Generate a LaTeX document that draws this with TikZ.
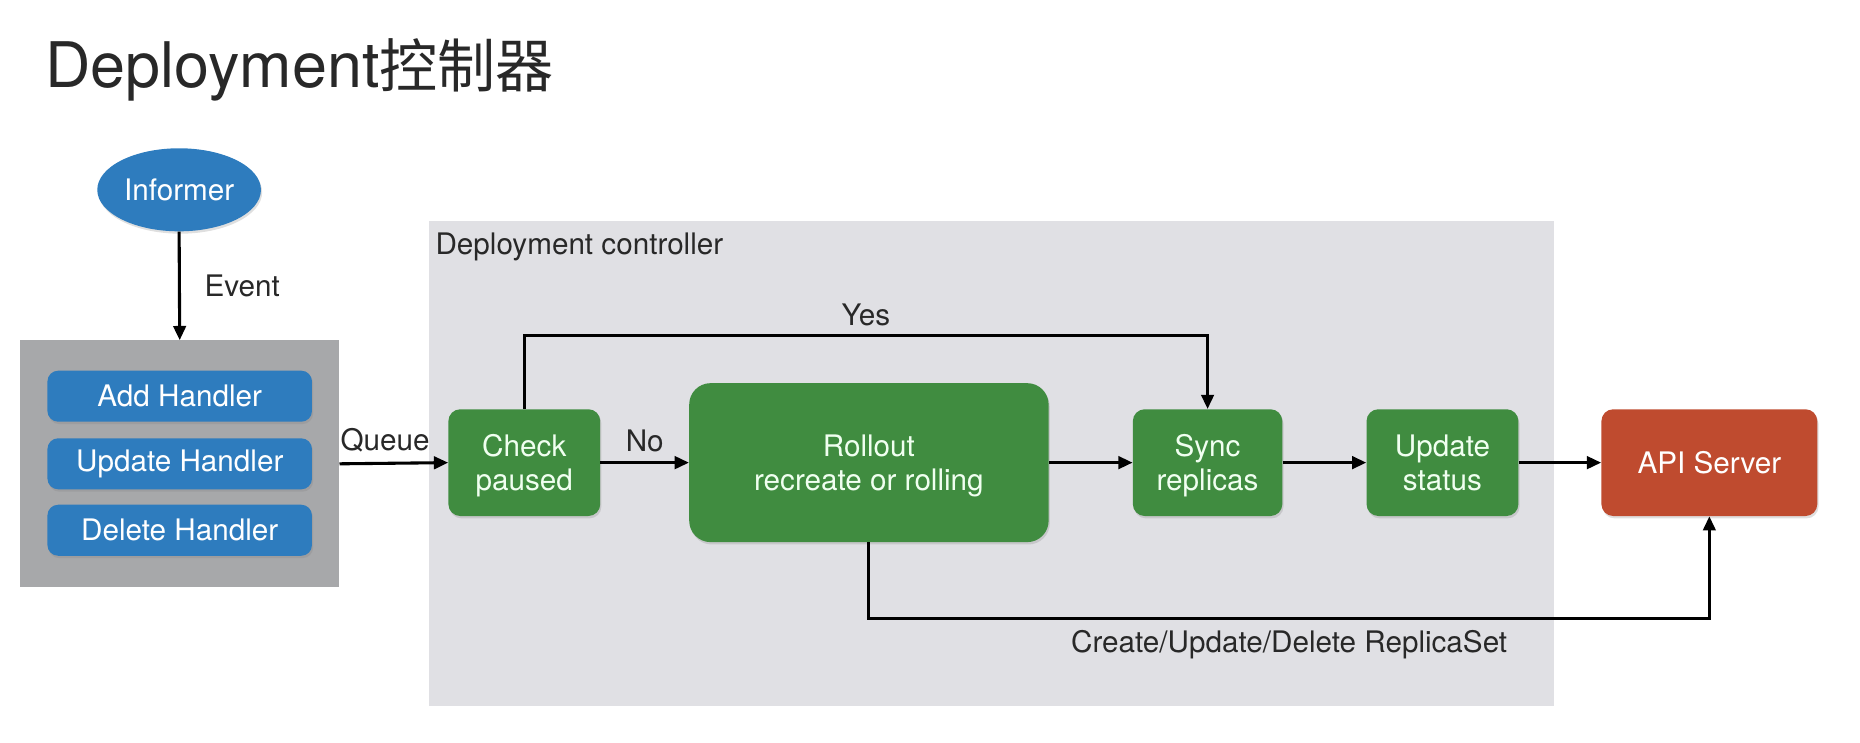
\documentclass[tikz,border=0pt]{standalone}
\usepackage{fontspec}
\setmainfont{TeX Gyre Heros}
\newfontfamily\cjk{Noto Sans CJK SC}
\usetikzlibrary{arrows.meta,shapes.geometric,shadows}
\definecolor{blueA}{RGB}{46,124,190}
\definecolor{greenA}{RGB}{64,140,64}
\definecolor{redA}{RGB}{191,75,47}
\definecolor{greyBox}{RGB}{167,168,170}
\definecolor{ctrlBg}{RGB}{224,224,228}
\definecolor{txt}{RGB}{40,40,40}
\tikzset{
  f24/.style={font=\fontsize{25}{29}\selectfont},
  shad/.style={drop shadow={shadow xshift=1pt,shadow yshift=-2pt,opacity=0.25}},
  gbox/.style={rectangle, rounded corners=10pt, fill=greenA, text=white!94!green, f24, align=center, inner sep=0pt, text depth=0pt, shad},
  hbox/.style={rectangle, rounded corners=9pt, fill=blueA, text=white, f24, inner sep=0pt, minimum width=223pt, minimum height=43pt, shad},
  conn/.style={line width=2.6pt, draw=black, -{Triangle[length=12pt,width=10.5pt]}},
  lbl/.style={text=txt, f24, inner sep=0pt}
}
\begin{document}
\begin{tikzpicture}[x=1pt,y=-1pt]
\useasboundingbox (0,0) rectangle (1568,626);
% title
\node[anchor=base west, inner sep=0pt, text=txt, font=\fontsize{53}{60}\selectfont] (title) at (38,74) {Deployment{\cjk\fontsize{49}{56}\selectfont 控制器}};
% informer
\node[ellipse, fill=blueA, text=white, f24, minimum width=138pt, minimum height=70pt, inner sep=0pt, shad] (inf) at (151,160) {Informer};
% handler group
\node[fill=greyBox, minimum width=269pt, minimum height=208pt, inner sep=0pt] (hgrp) at (151.5,391) {};
\node[hbox] (add) at (151.5,334) {Add Handler};
\node[hbox] (upd) at (151.5,391) {Update Handler};
\node[hbox] (del) at (151.5,447) {Delete Handler};
\draw[conn] (inf.south) -- (hgrp.north) node[midway, right=20pt, lbl] (ev) {Event};
% controller
\node[fill=ctrlBg, minimum width=948pt, minimum height=409pt, inner sep=0pt] (ctrl) at (836,390.5) {};
\node[lbl, anchor=west] (ctrllbl) at (367,208) {Deployment controller};
\node[gbox, minimum width=128pt, minimum height=90pt] (check) at (442,390) {Check\\paused};
\node[gbox, rounded corners=18pt, minimum width=303pt, minimum height=134pt] (roll) at (732.5,390) {Rollout\\recreate or rolling};
\node[gbox, minimum width=126pt, minimum height=90pt] (sync) at (1018,390) {Sync\\replicas};
\node[gbox, minimum width=128pt, minimum height=90pt] (ustat) at (1216,390) {Update\\status};
\node[gbox, fill=redA, text=white, minimum width=182pt, minimum height=90pt] (api) at (1441,390) {API Server};
% connectors
\draw[conn] (hgrp.east) -- (check.west) node[pos=0.42, above=8pt, lbl] (q) {Queue};
\draw[conn] (check.east) -- (roll.west) node[midway, above=8pt, lbl] (no) {No};
\draw[conn] (roll.east) -- (sync.west);
\draw[conn] (sync.east) -- (ustat.west);
\draw[conn] (ustat.east) -- (api.west);
\draw[conn] (check.north) -- ++(0,-62) -| (sync.north) node[pos=0.25, above=7pt, lbl] (yes) {Yes};
\draw[conn] (roll.south) -- ++(0,64) -| (api.south) node[pos=0.25, below=9pt, lbl] (cud) {Create/Update/Delete ReplicaSet};
\end{tikzpicture}
\end{document}
